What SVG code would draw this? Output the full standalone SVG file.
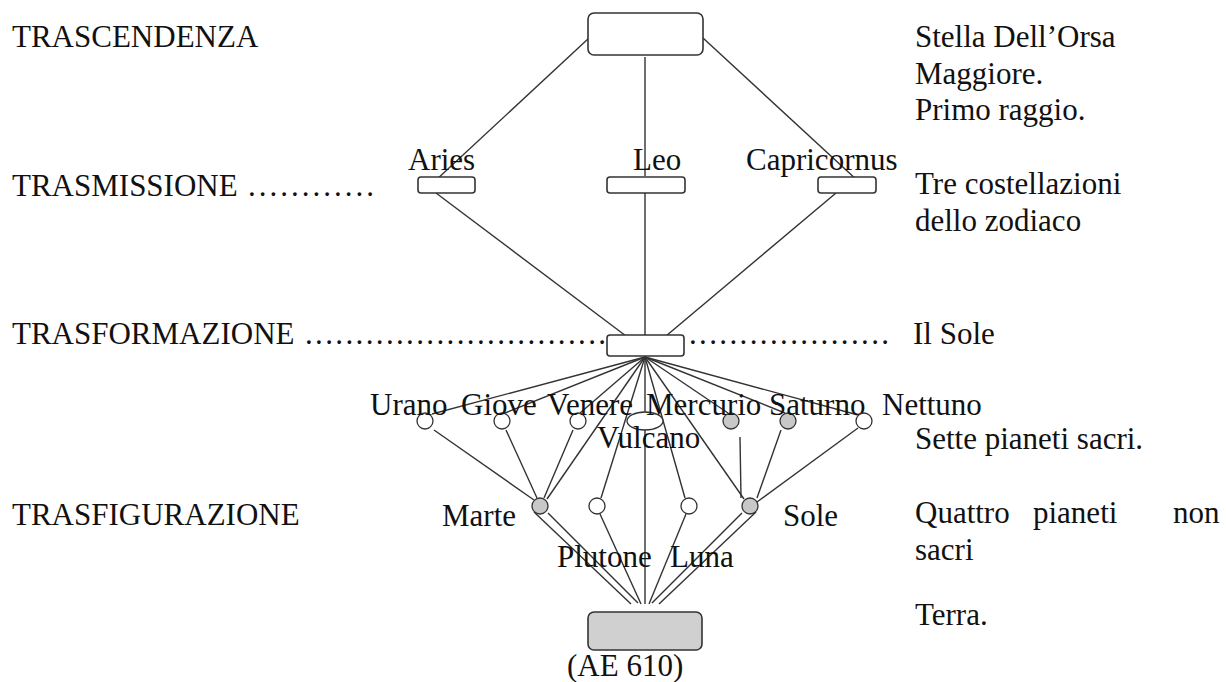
<svg xmlns="http://www.w3.org/2000/svg" width="1226" height="682" viewBox="0 0 1226 682">
<style>
text{font-family:"Liberation Serif","Times New Roman",serif;font-size:31px;fill:#111}
.box{fill:#fff;stroke:#333;stroke-width:1.6}
.gbox{fill:#d0d0d0;stroke:#333;stroke-width:1.6}
.c{fill:#fff;stroke:#333;stroke-width:1.3}
.g{fill:#c8c8c8;stroke:#333;stroke-width:1.3}
#connectors line{stroke:#333;stroke-width:1.4}
</style>
<rect width="1226" height="682" fill="#fff"/>
<g id="connectors">
<line x1="589" y1="38" x2="435" y2="181"/>
<line x1="645" y1="57" x2="645" y2="176"/>
<line x1="703" y1="38" x2="858" y2="181"/>
<line x1="436" y1="193" x2="626" y2="336"/>
<line x1="645" y1="193" x2="645" y2="335"/>
<line x1="836" y1="193" x2="666" y2="336"/>
<line x1="645" y1="357" x2="432" y2="414"/>
<line x1="645" y1="357" x2="505" y2="413"/>
<line x1="645" y1="357" x2="580" y2="413"/>
<line x1="645" y1="357" x2="547" y2="499"/>
<line x1="645" y1="357" x2="601" y2="498"/>
<line x1="645" y1="357" x2="645" y2="604"/>
<line x1="645" y1="357" x2="685" y2="498"/>
<line x1="645" y1="357" x2="744" y2="499"/>
<line x1="645" y1="357" x2="728" y2="413"/>
<line x1="645" y1="357" x2="785" y2="413"/>
<line x1="645" y1="357" x2="858" y2="415"/>
<line x1="434" y1="430" x2="534" y2="500"/>
<line x1="506" y1="430" x2="537" y2="498"/>
<line x1="573" y1="430" x2="544" y2="498"/>
<line x1="740" y1="437" x2="741" y2="498"/>
<line x1="781" y1="430" x2="757" y2="498"/>
<line x1="858" y1="428" x2="757" y2="502"/>
<line x1="534" y1="512" x2="631" y2="604"/>
<line x1="548" y1="513" x2="638" y2="603"/>
<line x1="600" y1="514" x2="641" y2="604"/>
<line x1="686" y1="514" x2="649" y2="604"/>
<line x1="742" y1="513" x2="652" y2="603"/>
<line x1="756" y1="512" x2="659" y2="604"/>
</g>
<g id="n-top"><rect class="box" x="588" y="13" width="115" height="42" rx="6"/></g>
<g id="n-aries"><rect class="box" x="418" y="177" width="57" height="16" rx="3"/><text x="408" y="170">Aries</text></g>
<g id="n-leo"><rect class="box" x="607" y="177" width="78" height="16" rx="3"/><text x="633" y="170">Leo</text></g>
<g id="n-capricornus"><rect class="box" x="818" y="177" width="58" height="16" rx="3"/><text x="746" y="170">Capricornus</text></g>
<g id="n-sun"><rect class="box" x="607" y="335" width="77" height="21" rx="3"/></g>
<g id="n-urano"><circle class="c" cx="425" cy="421" r="8"/><text x="370" y="415">Urano</text></g>
<g id="n-giove"><circle class="c" cx="502" cy="421" r="8"/><text x="461" y="415">Giove</text></g>
<g id="n-venere"><circle class="c" cx="578" cy="421" r="8"/><text x="547" y="415">Venere</text></g>
<g id="n-vulcano"><ellipse class="c" cx="645" cy="421" rx="18" ry="9"/><text x="597" y="448">Vulcano</text></g>
<g id="n-mercurio"><circle class="g" cx="731" cy="421" r="8"/><text x="646" y="415">Mercurio</text></g>
<g id="n-saturno"><circle class="g" cx="788" cy="421" r="8"/><text x="769" y="415">Saturno</text></g>
<g id="n-nettuno"><circle class="c" cx="864" cy="421" r="8"/><text x="882" y="415">Nettuno</text></g>
<g id="n-marte"><circle class="g" cx="540" cy="506" r="8"/><text x="442" y="526">Marte</text></g>
<g id="n-plutone"><circle class="c" cx="597" cy="506" r="8"/><text x="557" y="567">Plutone</text></g>
<g id="n-luna"><circle class="c" cx="689" cy="506" r="8"/><text x="670" y="567">Luna</text></g>
<g id="n-sole"><circle class="g" cx="750" cy="506" r="8"/><text x="783" y="526">Sole</text></g>
<g id="n-terra"><rect class="gbox" x="588" y="612" width="114" height="38" rx="6"/></g>
<g id="labels">
<text x="12" y="47">TRASCENDENZA</text>
<text x="12" y="196">TRASMISSIONE</text>
<text x="248" y="196" textLength="126" lengthAdjust="spacing">............</text>
<text x="12" y="344">TRASFORMAZIONE</text>
<text x="305" y="344" textLength="301" lengthAdjust="spacing">..............................</text>
<text x="689" y="344" textLength="200" lengthAdjust="spacing">....................</text>
<text x="12" y="525">TRASFIGURAZIONE</text>
<text x="915" y="47">Stella Dell’Orsa</text>
<text x="915" y="84">Maggiore.</text>
<text x="915" y="120">Primo raggio.</text>
<text x="915" y="194">Tre costellazioni</text>
<text x="915" y="231">dello zodiaco</text>
<text x="913" y="344">Il Sole</text>
<text x="915" y="449">Sette pianeti sacri.</text>
<text x="915" y="523">Quattro</text>
<text x="1033" y="523">pianeti</text>
<text x="1173" y="523">non</text>
<text x="915" y="560">sacri</text>
<text x="915" y="625">Terra.</text>
<text x="567" y="676">(AE 610)</text>
</g>
</svg>
